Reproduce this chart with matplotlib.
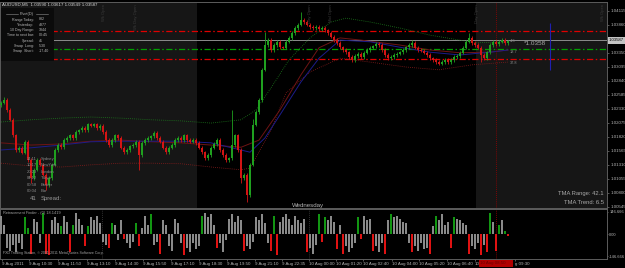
import matplotlib
matplotlib.use("Agg")
import matplotlib.pyplot as plt
from matplotlib.patches import Rectangle
import numpy as np

plt.rcParams['font.family'] = ['Liberation Sans', 'DejaVu Sans']

# ---------------- data ----------------
symbol_title = "AUDUSD,M5  1.03590 1.03617 1.03549 1.03587"
first_open = 1.0240
closes = [
    1.0244, 1.0249, 1.0231, 1.0213, 1.0185, 1.0158, 1.0162, 1.0153, 1.0173, 1.0140,
    1.0107, 1.0122, 1.0140, 1.0131, 1.0113, 1.0094, 1.0107, 1.0131, 1.0158, 1.0167,
    1.0163, 1.0176, 1.0180, 1.0185, 1.0180, 1.0191, 1.0194, 1.0198, 1.0194, 1.0205,
    1.0202, 1.0205, 1.0198, 1.0202, 1.0191, 1.0176, 1.0167, 1.0176, 1.0185, 1.0180,
    1.0162, 1.0154, 1.0158, 1.0165, 1.0167, 1.0173, 1.0149, 1.0171, 1.0176, 1.0180,
    1.0183, 1.0189, 1.0180, 1.0173, 1.0162, 1.0154, 1.0162, 1.0167, 1.0176, 1.0180,
    1.0176, 1.0185, 1.0176, 1.0173, 1.0176, 1.0171, 1.0162, 1.0154, 1.0143, 1.0149,
    1.0162, 1.0169, 1.0176, 1.0158, 1.0149, 1.0140, 1.0143, 1.0167, 1.0185, 1.0158,
    1.0107, 1.0113, 1.0076, 1.0131, 1.0204, 1.0227, 1.0249, 1.0304, 1.0349, 1.0358,
    1.0340, 1.0349, 1.0355, 1.0345, 1.0344, 1.0355, 1.0362, 1.0371, 1.0380, 1.0386,
    1.0395, 1.0391, 1.0386, 1.0382, 1.0380, 1.0382, 1.0378, 1.0380, 1.0376, 1.0371,
    1.0364, 1.0358, 1.0353, 1.0345, 1.0340, 1.0336, 1.0327, 1.0322, 1.0329, 1.0333,
    1.0327, 1.0335, 1.0340, 1.0344, 1.0347, 1.0351, 1.0349, 1.0340, 1.0331, 1.0325,
    1.0327, 1.0331, 1.0333, 1.0336, 1.0340, 1.0345, 1.0349, 1.0353, 1.0344, 1.0340,
    1.0339, 1.0335, 1.0331, 1.0325, 1.0322, 1.0318, 1.0315, 1.0318, 1.0322, 1.0318,
    1.0322, 1.0327, 1.0329, 1.0335, 1.0344, 1.0355, 1.0362, 1.0353, 1.0349, 1.0344,
    1.0331, 1.0325, 1.0336, 1.0349, 1.0355, 1.0351, 1.0355, 1.0358, 1.0353, 1.0356,
]
wick = 0.0003
spike_highs = {1: 1.0254, 77: 1.0231, 84: 1.0215, 88: 1.0373, 100: 1.0409,
               137: 1.0358, 156: 1.0371}
spike_lows = {10: 1.0098, 15: 1.0085, 46: 1.0122, 80: 1.0098, 82: 1.0063,
              160: 1.0318}

# TMA bands (bar index, price)
blue_bars = [0, 10, 20, 30, 40, 50, 60, 70, 80, 83, 88, 93, 100, 106, 113, 123, 133, 143, 153, 163, 169]
blue_vals = [1.0158, 1.0162, 1.0167, 1.0173, 1.0174, 1.0174, 1.0174, 1.0171, 1.0158, 1.0154, 1.0180,
             1.0222, 1.0282, 1.0325, 1.0358, 1.0355, 1.0345, 1.0336, 1.0331, 1.0336, 1.0340]
mid_bars = [0, 10, 20, 30, 40, 50, 60, 70, 80, 86, 93, 100, 106, 113, 120, 133, 143, 153, 163, 169]
mid_vals = [1.0171, 1.0167, 1.0169, 1.0174, 1.0176, 1.0173, 1.0171, 1.0167, 1.0163, 1.0176, 1.0231,
            1.0295, 1.0344, 1.0362, 1.0358, 1.0349, 1.0340, 1.0335, 1.0336, 1.0340]
upper_bars = [0, 10, 20, 30, 40, 50, 60, 70, 80, 85, 90, 96, 103, 110, 115, 123, 133, 143, 153, 158, 169]
upper_vals = [1.0209, 1.0213, 1.0216, 1.0218, 1.0216, 1.0213, 1.0211, 1.0207, 1.0213, 1.0231, 1.0271,
              1.0322, 1.0362, 1.0391, 1.0398, 1.0391, 1.0380, 1.0367, 1.0358, 1.0353, 1.0355]
lower_bars = [0, 10, 20, 30, 40, 50, 60, 70, 80, 83, 90, 95, 103, 113, 123, 135, 146, 157, 169]
lower_vals = [1.0134, 1.0129, 1.0127, 1.0131, 1.0134, 1.0134, 1.0133, 1.0127, 1.0122, 1.0125, 1.0194,
              1.0262, 1.0300, 1.0325, 1.0318, 1.0309, 1.0304, 1.0313, 1.0318]

bid_price = 1.0358
red_levels = [1.0375, 1.0324]
green_levels = [1.0342]

price_ticks = [1.04115, 1.03860, 1.03350, 1.03095, 1.02840, 1.02585, 1.02330,
               1.02075, 1.01820, 1.01565, 1.01310, 1.01055, 1.00800, 1.00545]
price_tick_labels = ["1.04115", "1.03860", "1.03350", "1.03095", "1.02840", "1.02585",
                     "1.02330", "1.02075", "1.01820", "1.01565", "1.01310", "1.01055", "1.00800", "1.00545"]

retr_values = [
    120, 60, -90, -110, -70, -120, -60, -100, 110, 40,
    -130, 100, 80, -60, 140, -130, -140, 90, 110, 70,
    50, 120, 80, -120, 60, 140, 100, 60, -80, 50,
    110, 90, 120, 70, -50, -70, -90, 70, 60, -40,
    90, -30, -60, -90, -50, 70, -80, 40, 120, 60,
    130, -70, -50, -130, 90, 60, -80, -110, 100, 70,
    -60, -140, -90, -120, -60, -100, -80, 120, 140, 110,
    130, 60, -90, -60, -120, -40, 100, 130, 80, 120,
    90, -110, -80, -100, -50, 110, 90, 130, 70, -60,
    -110, 120, -140, 80, 110, 130, 100, 60, 120, 90,
    70, 100, -120, -90, -130, -70, 130, -50, 110, 90,
    120, 80, -100, 60, -130, -80, -120, -90, -60, 110,
    -30, 120, 90, 100, -110, -80, -120, -60, -130, 90,
    130, 110, 120, 100, 80, 70, -60, -120, -80, -110,
    -60, -100, -90, -130, 50, 120, 90, 130, 60, 80,
    -90, 110, 100, 90, 70, 60, -130, -80, -100, -60,
    -140, -70, -120, 140, 80, -110, 60, 90, 20, -10,
]
retr_colors = ("nnnnnnnngg" "rnnngrrnnn" "gnnrgnnnrg" "nnnnnnrgnn" "nrnnngrnnn"
               "gnnrnnnnnn" "nrnnnnngnn" "nnrnnnnnnn" "nrnnnnnnnn" "rgrnnnnnnn"
               "nnrnnngrgn" "nnrnrnnnng" "rnnnrnnnrn" "gnnnnnnrnn" "nnnrngnnnn"
               "rgnnnnrnnn" "rnrgnrgngr")
retr_ticks = [146.666, 0.0, -146.666]
retr_tick_labels = ["146.666", "0.00", "-146.666"]

time_bars = [0.3, 9.3, 19, 28.7, 38, 47.3, 56.7, 66, 75.3, 84.7, 93.7, 102.7, 111.7,
             120.7, 130.3, 139.3, 148.7, 158, 171.2]
time_labels = ["9 Aug 2011", "9 Aug 10:30", "9 Aug 11:50", "9 Aug 13:10", "9 Aug 14:30",
               "9 Aug 15:50", "9 Aug 17:10", "9 Aug 18:30", "9 Aug 19:50", "9 Aug 21:10",
               "9 Aug 22:35", "10 Aug 00:00", "10 Aug 01:20", "10 Aug 02:40", "10 Aug 04:00",
               "10 Aug 05:20", "10 Aug 06:40", "10", "g 09:30"]

session_shade_bars = [(-1, 65.3), (158.3, 210)]
current_bar_line = 165
day_sep_bars = [33.7, 102.7]
tma_marker_bar = 183
tma_marker_range = (1.0304, 1.0389)

# ---------------- figure ----------------
W, H = 625, 268
fig = plt.figure(figsize=(W / 100, H / 100), dpi=100, facecolor='black')

def frac(x0, y0, x1, y1):
    return [x0 / W, 1 - y1 / H, (x1 - x0) / W, (y1 - y0) / H]

ax = fig.add_axes(frac(0, 2, 607, 208))
ax2 = fig.add_axes(frac(0, 209, 607, 259))
XL = (-1 / 3, 202)

for a in (ax, ax2):
    a.set_facecolor('black')
    for s in a.spines.values():
        s.set_color('#5c5c5c')
        s.set_linewidth(0.7)
    a.set_xlim(*XL)

# session shading
for s0, s1 in session_shade_bars:
    ax.axvspan(s0, s1, color='#161616', lw=0, zorder=0)

ax.set_ylim(1.005244, 1.042736)

# level lines
ax.axhline(bid_price, color='#8c8c8c', lw=0.7, zorder=1)
for lv in red_levels:
    ax.axhline(lv, color='#e00000', lw=0.9, ls=(0, (5, 2, 1.2, 2)), zorder=1)
for lv in green_levels:
    ax.axhline(lv, color='#00a000', lw=0.9, ls=(0, (5, 2, 1.2, 2)), zorder=1)

# bands
ax.plot(upper_bars, upper_vals, color='#1c7a1c', lw=0.6, ls=(0, (1, 1.5)), zorder=2)
ax.plot(lower_bars, lower_vals, color='#8a1c1c', lw=0.6, ls=(0, (1, 1.5)), zorder=2)
ax.plot(mid_bars, mid_vals, color='#6e1414', lw=0.7, zorder=2)
ax.plot(blue_bars, blue_vals, color='#1c1c8a', lw=0.7, zorder=2)

# candles
n = len(closes)
xs = np.arange(n)
opens = [first_open] + closes[:-1]
highs, lows, cols, bottoms, heights = [], [], [], [], []
for i, (o, c) in enumerate(zip(opens, closes)):
    hi = spike_highs.get(i, max(o, c) + wick)
    lo = spike_lows.get(i, min(o, c) - wick)
    highs.append(hi)
    lows.append(lo)
    cols.append('#1fa01f' if c >= o else '#d41414')
    bottoms.append(min(o, c))
    heights.append(max(abs(c - o), 0.00008))
ax.vlines(xs, lows, highs, colors=cols, lw=0.6, zorder=3)
ax.bar(xs, heights, bottom=bottoms, width=0.62, color=cols, lw=0, zorder=4)

ax.vlines(current_bar_line, *ax.get_ylim(), colors='#a00000', lw=0.6, ls=(0, (1, 1.5)), zorder=2)
ax.vlines(tma_marker_bar, *tma_marker_range, colors='#2020b0', lw=0.8, zorder=2)

ax.yaxis.tick_right()
ax.set_yticks(price_ticks, price_tick_labels)
ax.tick_params(axis='y', colors='#7a7a7a', labelcolor='#b4b4b4', labelsize=3.2,
               length=1.5, width=0.5, pad=1)
ax.set_xticks([])

# indicator
rc = {'g': '#129612', 'r': '#e01212', 'n': '#8a8a8a'}
ax2.bar(np.arange(len(retr_values)), retr_values, width=0.6,
        color=[rc[c] for c in retr_colors], lw=0, zorder=3)
ax2.set_ylim(-166, 166)
for b in day_sep_bars:
    ax2.axvline(b, color='#404040', lw=0.6, ls=(0, (1, 1.5)), zorder=1)
ax2.axvline(current_bar_line, color='#a00000', lw=0.6, ls=(0, (1, 1.5)), zorder=1)
ax2.yaxis.tick_right()
ax2.set_yticks(retr_ticks, retr_tick_labels)
ax2.tick_params(axis='y', colors='#7a7a7a', labelcolor='#b4b4b4', labelsize=2.9,
                length=1.0, width=0.5, pad=0.6)
ax2.set_xticks(time_bars, time_labels)
ax2.tick_params(axis='x', colors='#7a7a7a', labelcolor='#b4b4b4', labelsize=3.2,
                length=1.5, width=0.5, pad=0.8)
for t in ax2.get_xticklabels():
    t.set_ha('left')

# ---------------- overlay (pixel coordinates) ----------------
ov = fig.add_axes([0, 0, 1, 1])
ov.set_xlim(0, W)
ov.set_ylim(H, 0)
ov.axis('off')
ov.patch.set_alpha(0)

gray = '#b8b8b8'
ov.text(2, 4.6, symbol_title, color='#d8d8d8', fontsize=3.2, va='center')

# info box
ov.add_patch(Rectangle((1, 8), 53, 53, color='#0b0b0b', lw=0))
ov.text(27, 14.3, "Pivot(D)", color=gray, fontsize=2.8, ha='center', va='center')
ov.plot([6, 18], [14.3, 14.3], color='#909090', lw=0.4)
ov.plot([36, 48], [14.3, 14.3], color='#909090', lw=0.4)
info_labels = ["Range Today:", "Yesterday:", "10 Day Range:", "Time to next bar:",
               "Spread:", "Swap  Long:", "Swap  Short:"]
info_values = ["832", "4877", "1844", "00:45", "41", "5.30", "-17.40"]
for k, (lb, vl) in enumerate(zip(info_labels, info_values)):
    yy = 19.5 + k * 5.3
    ov.text(34, yy, lb, color=gray, fontsize=2.6, ha='right', va='center')
    ov.text(39, yy, vl, color=gray, fontsize=2.6, ha='left', va='center')

# faint rotated labels
for xv, s in [(104, "Wk Open"), (136, "Wk Day Open"), (310, "Day Open"),
              (331, "Mid Open"), (477, "Day Open"), (603, "Wk Open")]:
    ov.text(xv, 4, s, color='#3a3a3a', fontsize=3.0, rotation=90, ha='center', va='top')

# level labels near last bar
for yv, s in [(41, "4.6"), (52, "18.7"), (63, "37.8")]:
    ov.text(510, yv, s, color='#8c8c8c', fontsize=2.8, va='center')
ov.text(524, 43.5, "*1.0358", color='#a8a8a8', fontsize=4.6, va='center')

# price box on axis
ov.add_patch(Rectangle((608, 37), 17, 6.5, color='#c4c4c4', lw=0))
ov.text(609, 40.3, "1.03587", color='black', fontsize=3.1, va='center')

# session info bottom-left
sess = [("14:11", "Sydney"), ("10:17", "NewYork"), ("20:23", "London"),
        ("04:12", "Tokyo"), ("00:58", "Broker"), ("00:04", "Bar")]
for k, (tm, nm) in enumerate(sess):
    yy = 159 + k * 6.4
    ov.text(37, yy, tm, color='#8a8a8a', fontsize=3.0, ha='right', va='center')
    ov.text(41, yy, nm, color='#8a8a8a', fontsize=3.0, ha='left', va='center')
ov.text(37, 198.5, "41", color='#9a9a9a', fontsize=4.3, ha='right', va='center')
ov.text(41, 198.5, "Spread:", color='#9a9a9a', fontsize=4.3, ha='left', va='center')

ov.text(604, 193, "TMA Range: 42.1", color='#a8a8a8', fontsize=4.2, ha='right', va='center')
ov.text(604, 202.5, "TMA Trend: 6.5", color='#a8a8a8', fontsize=4.2, ha='right', va='center')
ov.text(308, 206, "Wednesday", color='#b4b4b4', fontsize=4.4, ha='center', va='center')

ov.text(3, 213, "Retracement Finder - (0) 18.1419", color='#a0a0a0', fontsize=2.8, va='center')
ov.text(3, 253, "FXD Trading Station, \u00a9 2001-2011 MetaQuotes Software Corp.",
        color='#a0a0a0', fontsize=2.6, va='center')

# current time box on time axis
ov.add_patch(Rectangle((479, 259.5), 34, 7.5, color='#b00000', lw=0))
ov.text(480.5, 263.3, "10 Aug 08:50", color='#6a0000', fontsize=3.2, va='center')

fig.savefig("out.png", dpi=100, facecolor='black')
